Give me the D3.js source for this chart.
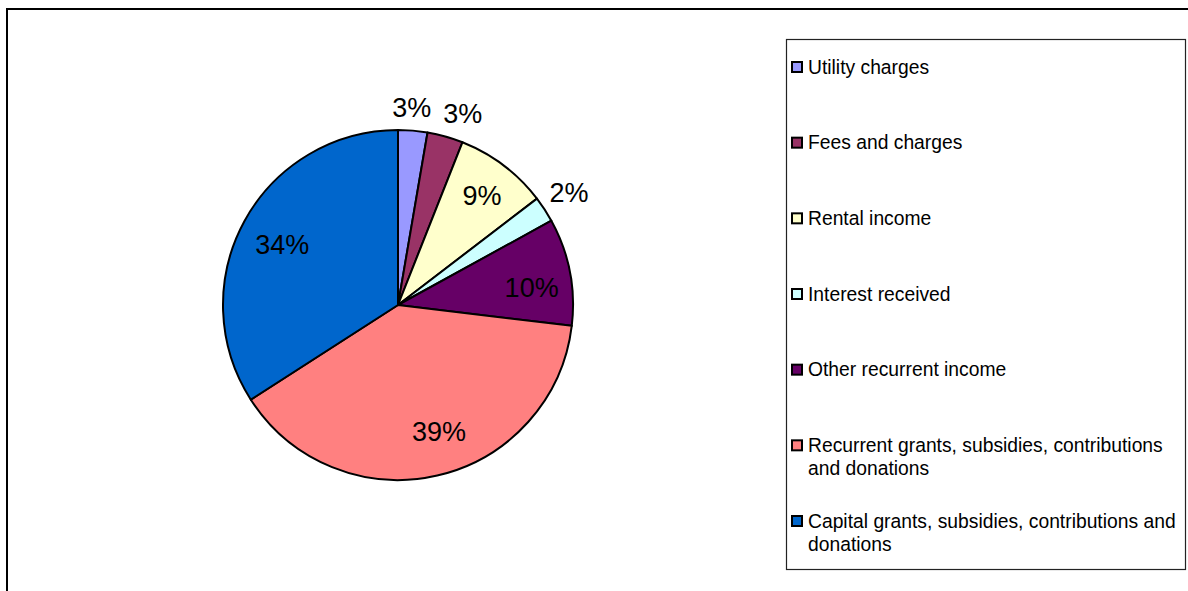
<!DOCTYPE html>
<html>
<head>
<meta charset="utf-8">
<script src="https://cdn.jsdelivr.net/npm/d3@7"></script>
<style>
  html, body { margin: 0; padding: 0; background: #fff; }
  svg { display: block; font-family: "Liberation Sans", Arial, Helvetica, sans-serif; }
</style>
</head>
<body>
<svg id="chart" width="1188" height="591"></svg>
<script>
// Income sources, share of total (%)
const categories = [
  "Utility charges",
  "Fees and charges",
  "Rental income",
  "Interest received",
  "Other recurrent income",
  "Recurrent grants, subsidies, contributions and donations",
  "Capital grants, subsidies, contributions and donations"
];
const shares = [2.7, 3.3, 8.6, 2.4, 9.9, 39.0, 34.1];
const colors = ["#9999FF", "#993366", "#FFFFCC", "#CCFFFF", "#660066", "#FF8080", "#0066CC"];
// Legend text, wrapped as displayed
const legendLines = [
  ["Utility charges"],
  ["Fees and charges"],
  ["Rental income"],
  ["Interest received"],
  ["Other recurrent income"],
  ["Recurrent grants, subsidies, contributions", "and donations"],
  ["Capital grants, subsidies, contributions and", "donations"]
];
// Label placement: radius factor (relative to pie radius) and angular nudge (degrees)
const labelRadius = [1.134, 1.158, 0.79, 1.17, 0.77, 0.76, 0.746];
const labelNudge = [-0.9, 3.0, 0.3, -0.3, 3.6, -5.0, -1.1];

const svg = d3.select("#chart");

// Chart area frame (top and left edges visible)
svg.append("path")
  .attr("d", "M7,591 V9 H1188")
  .attr("fill", "none")
  .attr("stroke", "#000")
  .attr("stroke-width", 2);

const cx = 398, cy = 305, r = 175;
const data = categories.map((c, i) => ({ name: c, value: shares[i], color: colors[i], idx: i }));

const pie = d3.pie().value(d => d.value).sort(null);
const arc = d3.arc().innerRadius(0).outerRadius(r);
const arcs = pie(data);

const g = svg.append("g").attr("transform", `translate(${cx},${cy})`);

g.selectAll("path.slice")
  .data(arcs)
  .join("path")
  .attr("class", "slice")
  .attr("d", arc)
  .attr("fill", d => d.data.color)
  .attr("stroke", "#000")
  .attr("stroke-width", 2)
  .attr("stroke-linejoin", "round");

g.selectAll("text.pct")
  .data(arcs)
  .join("text")
  .attr("class", "pct")
  .attr("transform", d => {
    const a = (d.startAngle + d.endAngle) / 2 + labelNudge[d.data.idx] * Math.PI / 180;
    const rr = r * labelRadius[d.data.idx];
    return `translate(${Math.sin(a) * rr},${-Math.cos(a) * rr})`;
  })
  .attr("text-anchor", "middle")
  .attr("dy", "0.36em")
  .attr("font-size", 27)
  .attr("fill", "#000")
  .text(d => Math.round(d.data.value) + "%");

// Legend
const legend = svg.append("g");
legend.append("rect")
  .attr("x", 786.5).attr("y", 39.5)
  .attr("width", 399).attr("height", 530)
  .attr("fill", "#fff")
  .attr("stroke", "#222")
  .attr("stroke-width", 1.2);

const rowY = d3.scalePoint().domain(d3.range(categories.length)).range([67, 521]);

const items = legend.selectAll("g.item")
  .data(data)
  .join("g")
  .attr("class", "item")
  .attr("transform", d => `translate(0,${rowY(d.idx)})`);

items.append("rect")
  .attr("x", 792).attr("y", -5)
  .attr("width", 10).attr("height", 10)
  .attr("fill", d => d.color)
  .attr("stroke", "#000")
  .attr("stroke-width", 2);

items.append("text")
  .attr("x", 808)
  .attr("font-size", 19.3)
  .attr("fill", "#000")
  .selectAll("tspan")
  .data(d => legendLines[d.idx])
  .join("tspan")
  .attr("x", 808)
  .attr("y", (t, i) => i * 23)
  .attr("dy", "0.35em")
  .text(t => t);
</script>
</body>
</html>
